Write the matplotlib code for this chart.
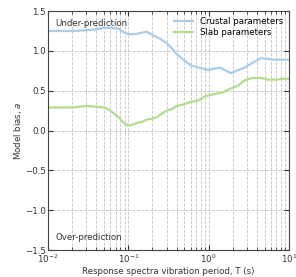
import numpy as np
import matplotlib
matplotlib.use("Agg")
import matplotlib.pyplot as plt

# periods (s) and model bias
crustal_T = [0.01, 0.015, 0.02, 0.03, 0.04, 0.05, 0.06, 0.075, 0.09, 0.1, 0.12,
             0.15, 0.17, 0.2, 0.25, 0.3, 0.35, 0.4, 0.5, 0.6, 0.75, 0.9, 1.0,
             1.2, 1.4, 1.6, 1.9, 2.2, 2.8, 3.5, 4.5, 5.5, 6.5, 8.0, 10.0]
crustal_a = [1.25, 1.25, 1.25, 1.26, 1.27, 1.29, 1.29, 1.28, 1.23, 1.21, 1.21,
             1.23, 1.24, 1.20, 1.15, 1.10, 1.03, 0.96, 0.88, 0.82, 0.79, 0.77, 0.76,
             0.78, 0.79, 0.76, 0.72, 0.75, 0.79, 0.85, 0.91, 0.90, 0.89, 0.89, 0.89]

slab_T = [0.01, 0.015, 0.02, 0.03, 0.04, 0.05, 0.06, 0.075, 0.09, 0.1, 0.11,
          0.13, 0.15, 0.17, 0.2, 0.23, 0.25, 0.3, 0.35, 0.4, 0.5, 0.6, 0.75,
          0.9, 1.0, 1.2, 1.5, 1.9, 2.3, 2.8, 3.5, 4.5, 5.5, 7.0, 8.5, 10.0]
slab_a = [0.29, 0.29, 0.29, 0.31, 0.30, 0.29, 0.25, 0.17, 0.09, 0.06, 0.07,
          0.10, 0.11, 0.14, 0.15, 0.17, 0.20, 0.25, 0.27, 0.31, 0.33, 0.36, 0.38,
          0.43, 0.44, 0.46, 0.48, 0.53, 0.56, 0.63, 0.66, 0.66, 0.64, 0.64, 0.65, 0.65]

plt.rcParams["font.size"] = 6.2
plt.rcParams["xtick.direction"] = "in"
plt.rcParams["ytick.direction"] = "in"

fig = plt.figure(figsize=(2.96, 2.77), dpi=100)
ax = fig.add_axes([0.162, 0.097, 0.814, 0.863])

ax.plot(crustal_T, crustal_a, color="#a9cde9", lw=1.6, label="Crustal parameters")
ax.plot(slab_T, slab_a, color="#b5dc8e", lw=1.6, label="Slab parameters")

ax.set_xscale("log")
ax.set_xlim(0.01, 10)
ax.set_ylim(-1.5, 1.5)
ax.set_yticks(np.arange(-1.5, 1.51, 0.5))
ax.grid(True, which="both", ls="--", color="#c4c4c4", lw=0.6)
ax.tick_params(which="both", top=True, right=True, colors="#333333",
               labelcolor="#333333", pad=1.5)
ax.tick_params(which="major", length=3.5)
ax.tick_params(which="minor", length=2)
for s in ax.spines.values():
    s.set_color("#444444")

ax.text(0.03, 0.965, "Under-prediction", transform=ax.transAxes, va="top", ha="left",
        color="#333333")
ax.text(0.03, 0.035, "Over-prediction", transform=ax.transAxes, va="bottom", ha="left",
        color="#333333")
ax.legend(loc="upper right", frameon=False, handlelength=2.2, borderaxespad=0.3,
          labelspacing=0.2)
ax.set_xlabel("Response spectra vibration period, T (s)", color="#333333", labelpad=1.5)
ax.set_ylabel("Model bias, $a$", color="#333333", labelpad=1)

fig.savefig("out.png", dpi=100)
